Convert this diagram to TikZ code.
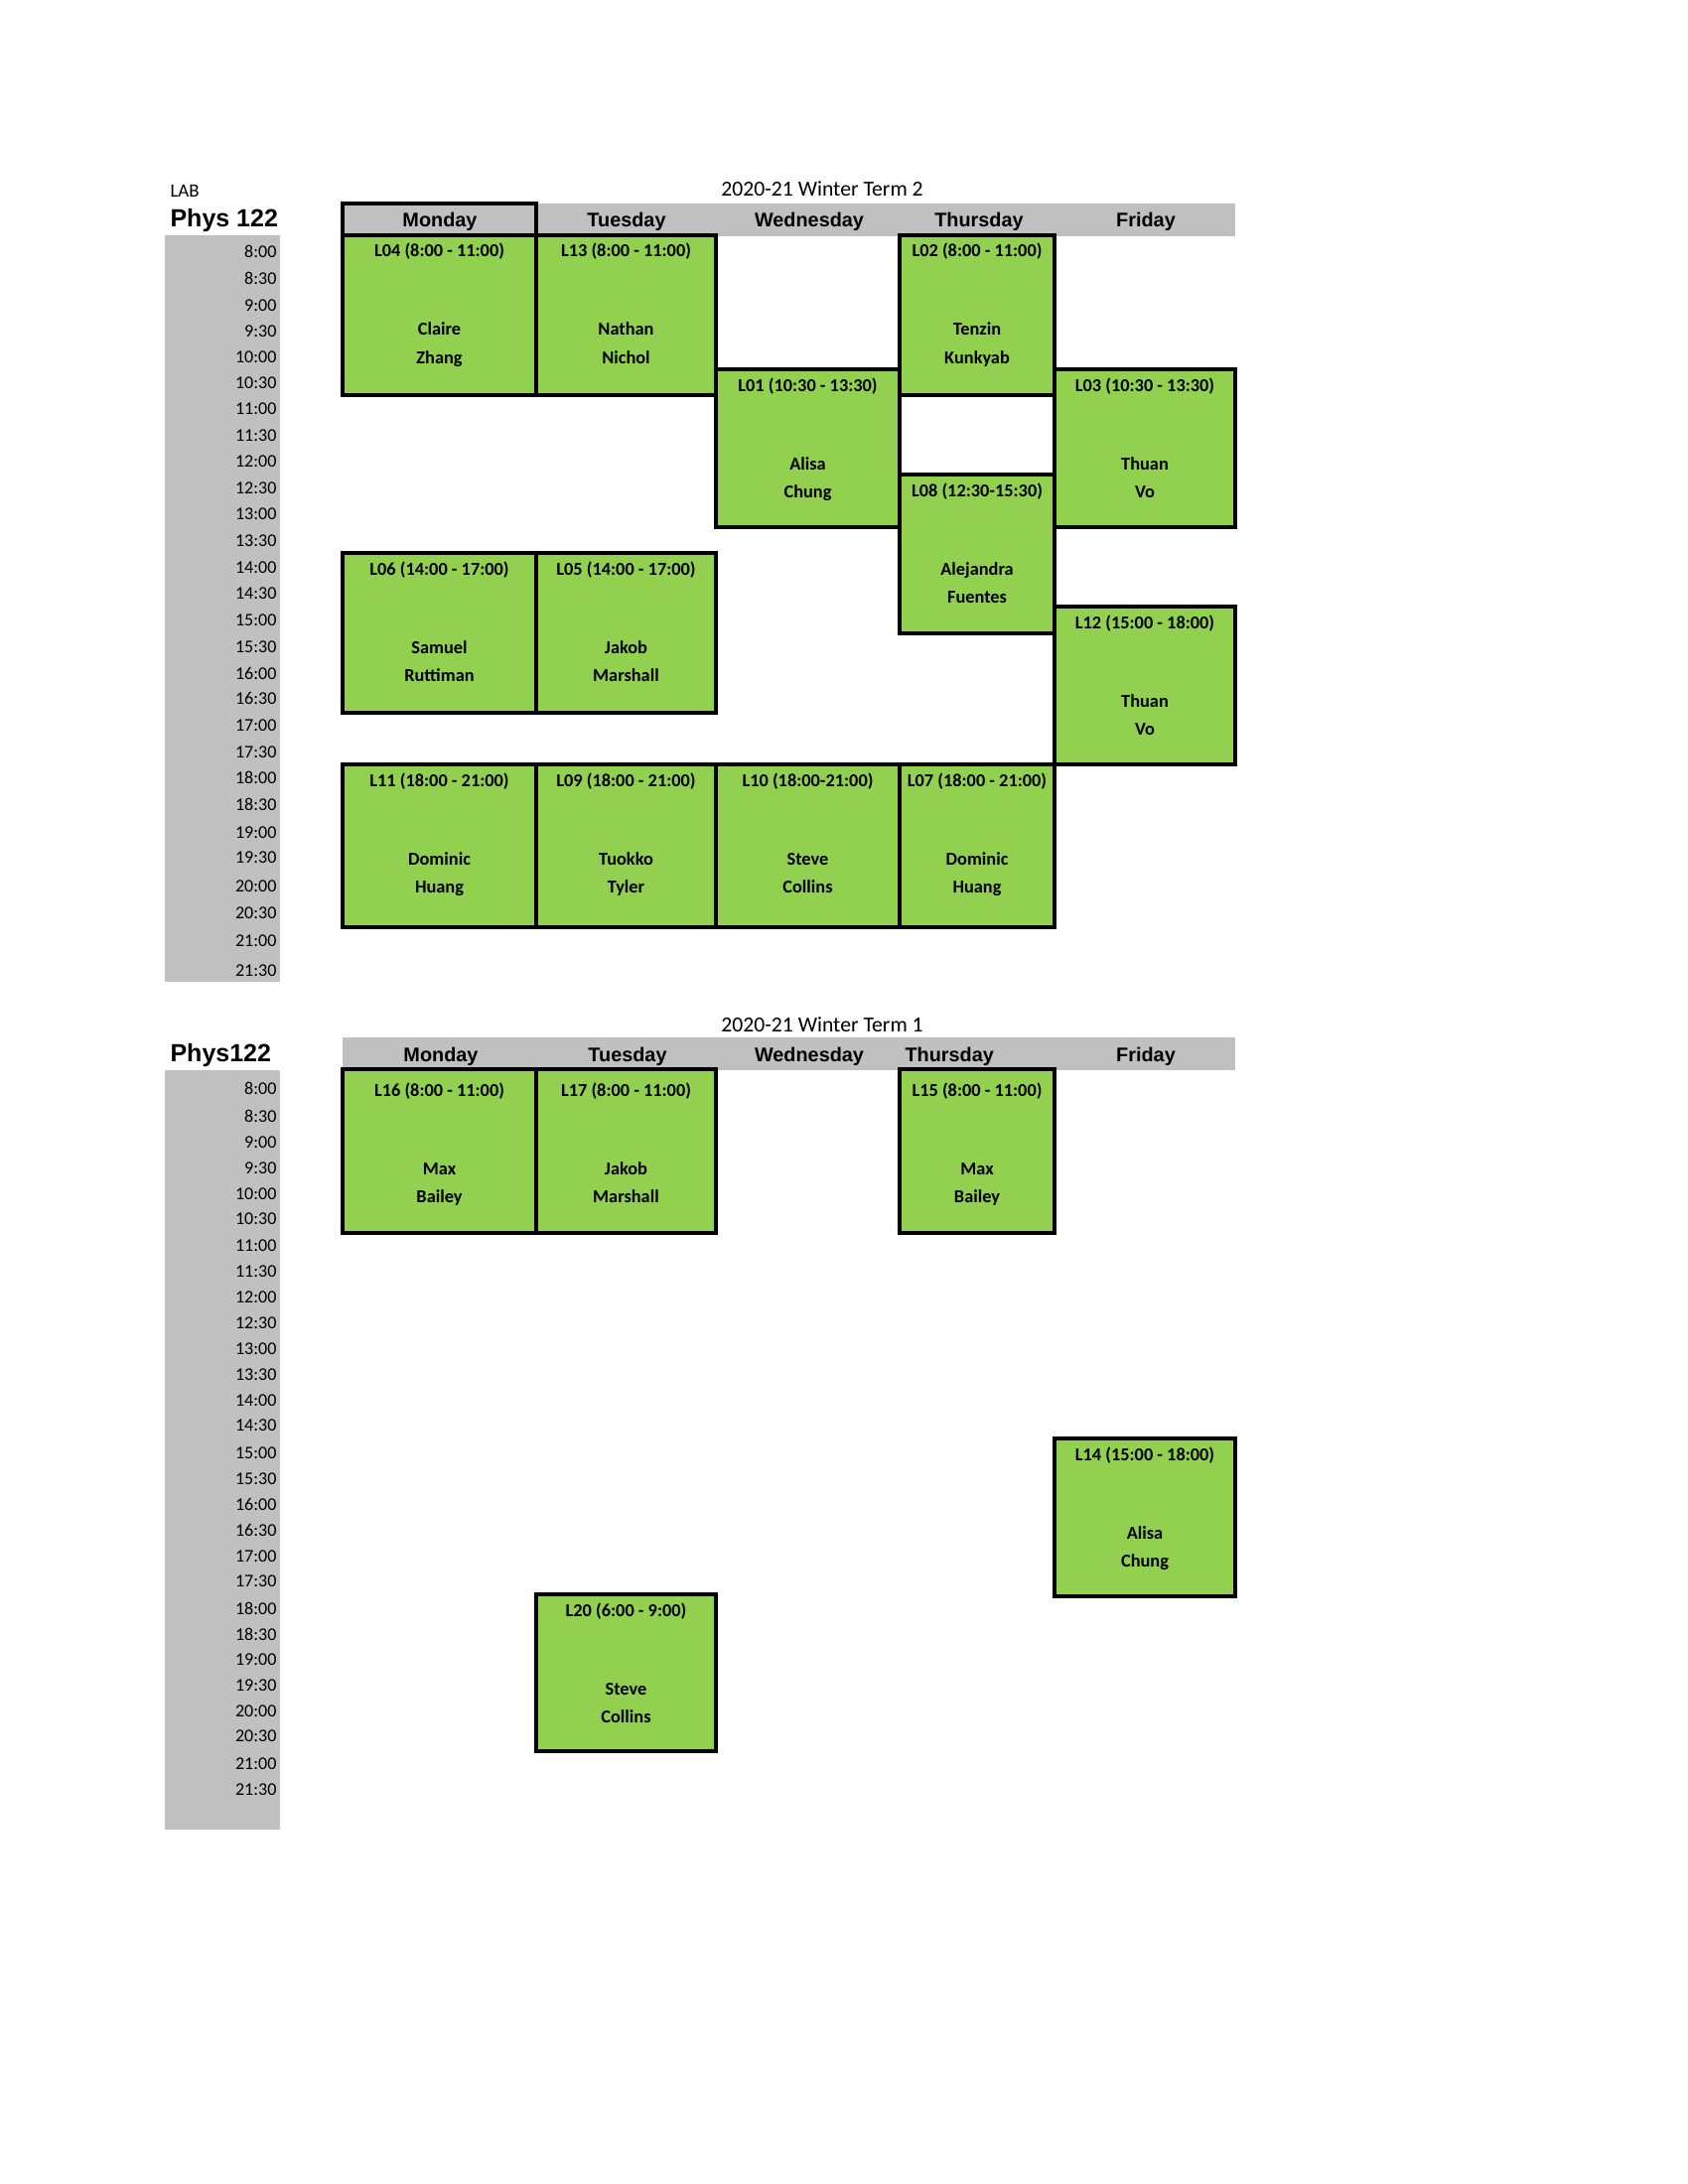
\documentclass[tikz,border=0pt]{standalone}
\usepackage{fontspec}
\setmainfont{Carlito}
\newfontfamily\arialf{Liberation Sans}
\definecolor{labgreen}{HTML}{92D050}
\definecolor{hdrgray}{HTML}{C0C0C0}
\tikzset{
  boxst/.style={draw=black, line width=1.1pt, fill=labgreen, inner sep=0pt, outer sep=0pt},
  boxtxt/.style={anchor=base, inner sep=0pt, font=\fontsize{6.6}{7}\selectfont\bfseries},
  timetxt/.style={anchor=base east, inner sep=0pt, font=\fontsize{6.5}{7}\selectfont},
  daytxt/.style={anchor=base, inner sep=0pt, font=\arialf\bfseries\fontsize{7.15}{8}\selectfont},
  titletxt/.style={anchor=base, inner sep=0pt, font=\fontsize{7.8}{9}\selectfont},
  phystxt/.style={anchor=base west, inner sep=0pt, font=\arialf\bfseries\fontsize{9}{10}\selectfont},
  graybg/.style={fill=hdrgray, draw=none}
}
\newcommand{\labbox}[9]{%
  \node[boxst, minimum width={(#4-#2)*0.36pt}, minimum height={(#5-#3)*0.36pt}, anchor=north west] (#1) at (#2,#3) {};
  \node[boxtxt] (#1-l) at ([yshift={-(22+#9)*0.36pt}]#1.north) {#6};
  \node[boxtxt] (#1-a) at ([yshift={-(101+#9)*0.36pt}]#1.north) {#7};
  \node[boxtxt] (#1-b) at ([yshift={-(129+#9)*0.36pt}]#1.north) {#8};
}
\begin{document}
\begin{tikzpicture}[x=0.36pt, y=-0.36pt]
\useasboundingbox (0,0) rectangle (1700,2200);

% ---------- Term 2 (top) ----------
\node[anchor=base west, inner sep=0pt, font=\fontsize{6.8}{8}\selectfont] (lab) at (171,199) {LAB};
\node[titletxt] (title2) at (828,198) {2020-21 Winter Term 2};
\node[phystxt] (phys2) at (171,229) {Phys 122};
\fill[graybg] (345,205) rectangle (1244,238);
\fill[graybg] (166,237) rectangle (282,989);
\node[daytxt] (d2mon) at (443,229) {Monday};
\node[daytxt] (d2tue) at (631,229) {Tuesday};
\node[daytxt] (d2wed) at (815,229) {Wednesday};
\node[daytxt] (d2thu) at (986,229) {Thursday};
\node[daytxt] (d2fri) at (1154,229) {Friday};
\draw[line width=1.1pt] (345,205) rectangle (540,238);

\foreach \t/\y [count=\i] in {8:00/254, 8:30/281, 9:00/308, 9:30/333, 10:00/359, 10:30/385,
  11:00/411, 11:30/438, 12:00/464, 12:30/491, 13:00/517, 13:30/544, 14:00/571, 14:30/597,
  15:00/624, 15:30/651, 16:00/678, 16:30/703, 17:00/730, 17:30/757, 18:00/783, 18:30/810,
  19:00/838, 19:30/863, 20:00/892, 20:30/919, 21:00/947, 21:30/977}
  \node[timetxt] (ta\i) at (279,\y+6) {\t};

\labbox{L04}{345}{237}{540}{398}{L04 (8:00 - 11:00)}{Claire}{Zhang}{0}
\labbox{L13}{540}{237}{721}{398}{L13 (8:00 - 11:00)}{Nathan}{Nichol}{0}
\labbox{L02}{906}{237}{1062}{398}{L02 (8:00 - 11:00)}{Tenzin}{Kunkyab}{0}
\labbox{L01}{721}{372}{906}{531}{L01 (10:30 - 13:30)}{Alisa}{Chung}{0}
\labbox{L03}{1062}{372}{1244}{531}{L03 (10:30 - 13:30)}{Thuan}{Vo}{0}
\labbox{L08}{906}{478}{1062}{638}{L08 (12:30-15:30)}{Alejandra}{Fuentes}{0}
\labbox{L06}{345}{557}{540}{718}{L06 (14:00 - 17:00)}{Samuel}{Ruttiman}{0}
\labbox{L05}{540}{557}{721}{718}{L05 (14:00 - 17:00)}{Jakob}{Marshall}{0}
\labbox{L12}{1062}{611}{1244}{770}{L12 (15:00 - 18:00)}{Thuan}{Vo}{0}
\labbox{L11}{345}{770}{540}{934}{L11 (18:00 - 21:00)}{Dominic}{Huang}{0}
\labbox{L09}{540}{770}{721}{934}{L09 (18:00 - 21:00)}{Tuokko}{Tyler}{0}
\labbox{L10}{721}{770}{906}{934}{L10 (18:00-21:00)}{Steve}{Collins}{0}
\labbox{L07}{906}{770}{1062}{934}{L07 (18:00 - 21:00)}{Dominic}{Huang}{0}

% ---------- Term 1 (bottom) ----------
\node[titletxt] (title1) at (828,1039) {2020-21 Winter Term 1};
\node[phystxt] (phys1) at (171,1069) {Phys122};
\fill[graybg] (345,1045) rectangle (1244,1078);
\fill[graybg] (166,1078) rectangle (282,1843);
\node[daytxt] (d1mon) at (444,1069) {Monday};
\node[daytxt] (d1tue) at (632,1069) {Tuesday};
\node[daytxt] (d1wed) at (815,1069) {Wednesday};
\node[daytxt, anchor=base west] (d1thu) at (911,1069) {Thursday};
\node[daytxt] (d1fri) at (1154,1069) {Friday};

\foreach \t/\y [count=\i] in {8:00/1096, 8:30/1124, 9:00/1150, 9:30/1176, 10:00/1202, 10:30/1227,
  11:00/1254, 11:30/1280, 12:00/1306, 12:30/1332, 13:00/1358, 13:30/1384, 14:00/1410, 14:30/1435,
  15:00/1463, 15:30/1489, 16:00/1515, 16:30/1541, 17:00/1567, 17:30/1592, 18:00/1620, 18:30/1646,
  19:00/1671, 19:30/1697, 20:00/1723, 20:30/1748, 21:00/1776, 21:30/1802}
  \node[timetxt] (tb\i) at (279,\y+6) {\t};

\labbox{L16}{345}{1077}{540}{1242}{L16 (8:00 - 11:00)}{Max}{Bailey}{5}
\labbox{L17}{540}{1077}{721}{1242}{L17 (8:00 - 11:00)}{Jakob}{Marshall}{5}
\labbox{L15}{906}{1077}{1062}{1242}{L15 (8:00 - 11:00)}{Max}{Bailey}{5}
\labbox{L14}{1062}{1449}{1244}{1608}{L14 (15:00 - 18:00)}{Alisa}{Chung}{0}
\labbox{L20}{540}{1606}{721}{1764}{L20 (6:00 - 9:00)}{Steve}{Collins}{0}
\end{tikzpicture}
\end{document}
